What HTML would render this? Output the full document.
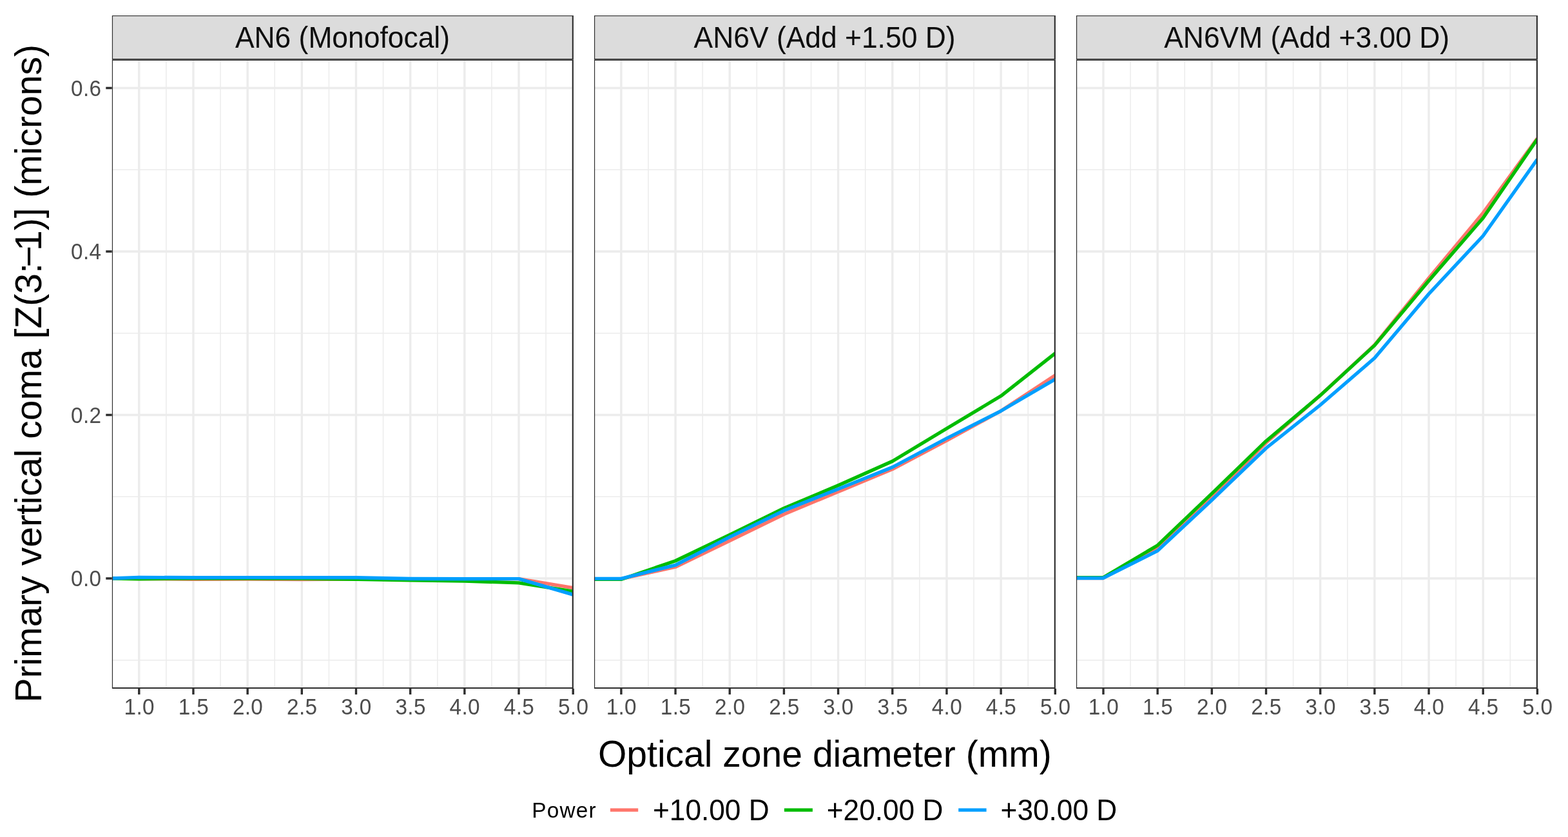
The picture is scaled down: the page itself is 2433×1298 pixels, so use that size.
<!DOCTYPE html>
<html lang="en"><head><meta charset="utf-8"><title>Primary vertical coma vs optical zone diameter</title>
<style>
html,body{margin:0;padding:0;background:#fff;}
body{width:2433px;height:1298px;overflow:hidden;}
svg{display:block;}
text{font-family:"Liberation Sans",sans-serif;}
.tick{font-size:33.3px;fill:#4D4D4D;letter-spacing:0.35px;}
.strip{font-size:44.4px;fill:#0D0D0D;text-anchor:middle;}
.title{font-size:57.05px;fill:#000;text-anchor:middle;}
.legt{font-size:33.4px;fill:#000;letter-spacing:1.15px;}
.legl{font-size:44.2px;fill:#000;}
.gmaj{stroke:#ECECEC;stroke-width:3.4;fill:none;}
.gmin{stroke:#ECECEC;stroke-width:1.5;fill:none;}
.ax{stroke:#2E2E2E;stroke-width:3.4;fill:none;}
.ln{fill:none;stroke-width:5.3;stroke-linejoin:round;stroke-linecap:butt;}
</style></head><body>
<svg width="2433" height="1298" viewBox="0 0 2433 1298" role="img" aria-label="Primary vertical coma versus optical zone diameter for three lens models">
<rect x="0" y="0" width="2433" height="1298" fill="#FFFFFF"/>
<defs>
<clipPath id="cp0"><rect x="173.70" y="92.50" width="715.50" height="975.50"/></clipPath>
<clipPath id="cp1"><rect x="921.80" y="92.50" width="715.50" height="975.50"/></clipPath>
<clipPath id="cp2"><rect x="1669.90" y="92.50" width="715.50" height="975.50"/></clipPath>
</defs>
<g clip-path="url(#cp0)">
<rect x="173.70" y="92.50" width="715.50" height="975.50" fill="#FFFFFF"/>
<path class="gmin" d="M173.70 1023.75H889.20M173.70 770.25H889.20M173.70 516.75H889.20M173.70 263.25H889.20M257.88 92.50V1068.00M342.05 92.50V1068.00M426.23 92.50V1068.00M510.41 92.50V1068.00M594.58 92.50V1068.00M678.76 92.50V1068.00M762.94 92.50V1068.00M847.11 92.50V1068.00"/>
<path class="gmaj" d="M173.70 897.00H889.20M173.70 643.50H889.20M173.70 390.00H889.20M173.70 136.50H889.20M215.79 92.50V1068.00M299.96 92.50V1068.00M384.14 92.50V1068.00M468.32 92.50V1068.00M552.49 92.50V1068.00M636.67 92.50V1068.00M720.85 92.50V1068.00M805.02 92.50V1068.00M889.20 92.50V1068.00"/>
<polyline class="ln" stroke="#FF756B" points="173.70,897.00 215.79,897.51 299.96,898.39 384.14,898.14 468.32,898.52 552.49,898.01 636.67,897.76 720.85,897.76 805.02,897.63 889.20,911.70"/>
<polyline class="ln" stroke="#00BC00" points="173.70,897.00 215.79,897.76 299.96,897.00 384.14,897.00 468.32,897.38 552.49,898.27 636.67,899.79 720.85,901.06 805.02,903.84 889.20,917.15"/>
<polyline class="ln" stroke="#009FFF" points="173.70,897.00 215.79,895.35 299.96,895.73 384.14,895.61 468.32,895.73 552.49,895.73 636.67,897.51 720.85,897.76 805.02,897.63 889.20,922.10"/>
</g>
<path fill="#2E2E2E" fill-rule="evenodd" d="M173.85 92.55H889.90V1067.95H173.85Z M175.05 93.90H887.75V1066.00H175.05Z"/>
<path fill="#2E2E2E" d="M173.85 24.00H889.90V92.45H173.85Z"/>
<rect x="175.05" y="25.10" width="712.70" height="65.90" fill="#DCDCDC"/>
<text class="strip" transform="translate(531.45 74.00) scale(1 1.030)">AN6 (Monofocal)</text>
<path class="ax" d="M215.79 1068.00v9.00M299.96 1068.00v9.00M384.14 1068.00v9.00M468.32 1068.00v9.00M552.49 1068.00v9.00M636.67 1068.00v9.00M720.85 1068.00v9.00M805.02 1068.00v9.00M889.20 1068.00v9.00"/>
<text class="tick" transform="translate(216.19 1107.80) scale(1 1.040)" text-anchor="middle">1.0</text>
<text class="tick" transform="translate(300.36 1107.80) scale(1 1.040)" text-anchor="middle">1.5</text>
<text class="tick" transform="translate(384.54 1107.80) scale(1 1.040)" text-anchor="middle">2.0</text>
<text class="tick" transform="translate(468.72 1107.80) scale(1 1.040)" text-anchor="middle">2.5</text>
<text class="tick" transform="translate(552.89 1107.80) scale(1 1.040)" text-anchor="middle">3.0</text>
<text class="tick" transform="translate(637.07 1107.80) scale(1 1.040)" text-anchor="middle">3.5</text>
<text class="tick" transform="translate(721.25 1107.80) scale(1 1.040)" text-anchor="middle">4.0</text>
<text class="tick" transform="translate(805.42 1107.80) scale(1 1.040)" text-anchor="middle">4.5</text>
<text class="tick" transform="translate(889.60 1107.80) scale(1 1.040)" text-anchor="middle">5.0</text>
<g clip-path="url(#cp1)">
<rect x="921.80" y="92.50" width="715.50" height="975.50" fill="#FFFFFF"/>
<path class="gmin" d="M921.80 1023.75H1637.30M921.80 770.25H1637.30M921.80 516.75H1637.30M921.80 263.25H1637.30M1005.98 92.50V1068.00M1090.15 92.50V1068.00M1174.33 92.50V1068.00M1258.51 92.50V1068.00M1342.68 92.50V1068.00M1426.86 92.50V1068.00M1511.04 92.50V1068.00M1595.21 92.50V1068.00"/>
<path class="gmaj" d="M921.80 897.00H1637.30M921.80 643.50H1637.30M921.80 390.00H1637.30M921.80 136.50H1637.30M963.89 92.50V1068.00M1048.06 92.50V1068.00M1132.24 92.50V1068.00M1216.42 92.50V1068.00M1300.59 92.50V1068.00M1384.77 92.50V1068.00M1468.95 92.50V1068.00M1553.12 92.50V1068.00M1637.30 92.50V1068.00"/>
<polyline class="ln" stroke="#FF756B" points="921.80,897.63 963.89,897.63 1048.06,879.25 1132.24,838.70 1216.42,797.50 1300.59,762.64 1384.77,727.54 1468.95,683.05 1553.12,637.29 1637.30,582.03"/>
<polyline class="ln" stroke="#00BC00" points="921.80,898.39 963.89,898.39 1048.06,869.75 1132.24,829.44 1216.42,788.25 1300.59,752.76 1384.77,715.24 1468.95,664.41 1553.12,614.09 1637.30,547.93"/>
<polyline class="ln" stroke="#009FFF" points="921.80,897.38 963.89,897.38 1048.06,876.34 1132.24,832.86 1216.42,791.80 1300.59,758.34 1384.77,724.49 1468.95,679.75 1553.12,637.29 1637.30,587.98"/>
</g>
<path fill="#2E2E2E" fill-rule="evenodd" d="M921.95 92.55H1637.90V1067.95H921.95Z M923.15 93.90H1635.75V1066.00H923.15Z"/>
<path fill="#2E2E2E" d="M921.95 24.00H1637.90V92.45H921.95Z"/>
<rect x="923.15" y="25.10" width="712.60" height="65.90" fill="#DCDCDC"/>
<text class="strip" transform="translate(1279.55 74.00) scale(1 1.030)">AN6V (Add +1.50 D)</text>
<path class="ax" d="M963.89 1068.00v9.00M1048.06 1068.00v9.00M1132.24 1068.00v9.00M1216.42 1068.00v9.00M1300.59 1068.00v9.00M1384.77 1068.00v9.00M1468.95 1068.00v9.00M1553.12 1068.00v9.00M1637.30 1068.00v9.00"/>
<text class="tick" transform="translate(964.29 1107.80) scale(1 1.040)" text-anchor="middle">1.0</text>
<text class="tick" transform="translate(1048.46 1107.80) scale(1 1.040)" text-anchor="middle">1.5</text>
<text class="tick" transform="translate(1132.64 1107.80) scale(1 1.040)" text-anchor="middle">2.0</text>
<text class="tick" transform="translate(1216.82 1107.80) scale(1 1.040)" text-anchor="middle">2.5</text>
<text class="tick" transform="translate(1300.99 1107.80) scale(1 1.040)" text-anchor="middle">3.0</text>
<text class="tick" transform="translate(1385.17 1107.80) scale(1 1.040)" text-anchor="middle">3.5</text>
<text class="tick" transform="translate(1469.35 1107.80) scale(1 1.040)" text-anchor="middle">4.0</text>
<text class="tick" transform="translate(1553.52 1107.80) scale(1 1.040)" text-anchor="middle">4.5</text>
<text class="tick" transform="translate(1637.70 1107.80) scale(1 1.040)" text-anchor="middle">5.0</text>
<g clip-path="url(#cp2)">
<rect x="1669.90" y="92.50" width="715.50" height="975.50" fill="#FFFFFF"/>
<path class="gmin" d="M1669.90 1023.75H2385.40M1669.90 770.25H2385.40M1669.90 516.75H2385.40M1669.90 263.25H2385.40M1754.08 92.50V1068.00M1838.25 92.50V1068.00M1922.43 92.50V1068.00M2006.61 92.50V1068.00M2090.78 92.50V1068.00M2174.96 92.50V1068.00M2259.14 92.50V1068.00M2343.31 92.50V1068.00"/>
<path class="gmaj" d="M1669.90 897.00H2385.40M1669.90 643.50H2385.40M1669.90 390.00H2385.40M1669.90 136.50H2385.40M1711.99 92.50V1068.00M1796.16 92.50V1068.00M1880.34 92.50V1068.00M1964.52 92.50V1068.00M2048.69 92.50V1068.00M2132.87 92.50V1068.00M2217.05 92.50V1068.00M2301.22 92.50V1068.00M2385.40 92.50V1068.00"/>
<polyline class="ln" stroke="#FF756B" points="1669.90,896.49 1711.99,896.49 1796.16,850.10 1880.34,770.63 1964.52,686.60 2048.69,613.08 2132.87,534.88 2217.05,431.07 2301.22,330.17 2385.40,214.45"/>
<polyline class="ln" stroke="#00BC00" points="1669.90,895.61 1711.99,895.61 1796.16,845.67 1880.34,765.43 1964.52,683.93 2048.69,613.08 2132.87,535.64 2217.05,435.25 2301.22,337.91 2385.40,215.72"/>
<polyline class="ln" stroke="#009FFF" points="1669.90,896.49 1711.99,896.49 1796.16,854.16 1880.34,775.45 1964.52,694.96 2048.69,628.04 2132.87,555.28 2217.05,455.78 2301.22,365.79 2385.40,247.03"/>
</g>
<path fill="#2E2E2E" fill-rule="evenodd" d="M1669.95 92.55H2386.00V1067.95H1669.95Z M1671.15 93.90H2383.85V1066.00H1671.15Z"/>
<path fill="#2E2E2E" d="M1669.95 24.00H2386.00V92.45H1669.95Z"/>
<rect x="1671.15" y="25.10" width="712.70" height="65.90" fill="#DCDCDC"/>
<text class="strip" transform="translate(2027.65 74.00) scale(1 1.030)">AN6VM (Add +3.00 D)</text>
<path class="ax" d="M1711.99 1068.00v9.00M1796.16 1068.00v9.00M1880.34 1068.00v9.00M1964.52 1068.00v9.00M2048.69 1068.00v9.00M2132.87 1068.00v9.00M2217.05 1068.00v9.00M2301.22 1068.00v9.00M2385.40 1068.00v9.00"/>
<text class="tick" transform="translate(1712.39 1107.80) scale(1 1.040)" text-anchor="middle">1.0</text>
<text class="tick" transform="translate(1796.56 1107.80) scale(1 1.040)" text-anchor="middle">1.5</text>
<text class="tick" transform="translate(1880.74 1107.80) scale(1 1.040)" text-anchor="middle">2.0</text>
<text class="tick" transform="translate(1964.92 1107.80) scale(1 1.040)" text-anchor="middle">2.5</text>
<text class="tick" transform="translate(2049.09 1107.80) scale(1 1.040)" text-anchor="middle">3.0</text>
<text class="tick" transform="translate(2133.27 1107.80) scale(1 1.040)" text-anchor="middle">3.5</text>
<text class="tick" transform="translate(2217.45 1107.80) scale(1 1.040)" text-anchor="middle">4.0</text>
<text class="tick" transform="translate(2301.62 1107.80) scale(1 1.040)" text-anchor="middle">4.5</text>
<text class="tick" transform="translate(2385.80 1107.80) scale(1 1.040)" text-anchor="middle">5.0</text>
<path class="ax" d="M164.30 897.00h9.40M164.30 643.50h9.40M164.30 390.00h9.40M164.30 136.50h9.40"/>
<text class="tick" transform="translate(157.40 909.00) scale(1 1.040)" text-anchor="end">0.0</text>
<text class="tick" transform="translate(157.40 655.50) scale(1 1.040)" text-anchor="end">0.2</text>
<text class="tick" transform="translate(157.40 402.00) scale(1 1.040)" text-anchor="end">0.4</text>
<text class="tick" transform="translate(157.40 148.50) scale(1 1.040)" text-anchor="end">0.6</text>
<text class="title" x="1279.85" y="1188.70">Optical zone diameter (mm)</text>
<text class="title" transform="translate(64.10 579.30) rotate(-90)" x="0" y="0">Primary vertical coma [Z(3:<tspan dx="-6.4">−</tspan><tspan dx="-7.9">1)] (microns)</tspan></text>
<text class="legt" x="825.30" y="1267.90">Power</text>
<line x1="946.90" y1="1256.15" x2="990.20" y2="1256.15" stroke="#FF756B" stroke-width="5.3"/>
<text class="legl" transform="translate(1013.00 1271.80) scale(1 1.040)">+10.00 D</text>
<line x1="1216.90" y1="1256.15" x2="1260.90" y2="1256.15" stroke="#00BC00" stroke-width="5.3"/>
<text class="legl" transform="translate(1282.80 1271.80) scale(1 1.040)">+20.00 D</text>
<line x1="1487.20" y1="1256.15" x2="1530.60" y2="1256.15" stroke="#009FFF" stroke-width="5.3"/>
<text class="legl" transform="translate(1552.60 1271.80) scale(1 1.040)">+30.00 D</text>
</svg>
</body></html>
